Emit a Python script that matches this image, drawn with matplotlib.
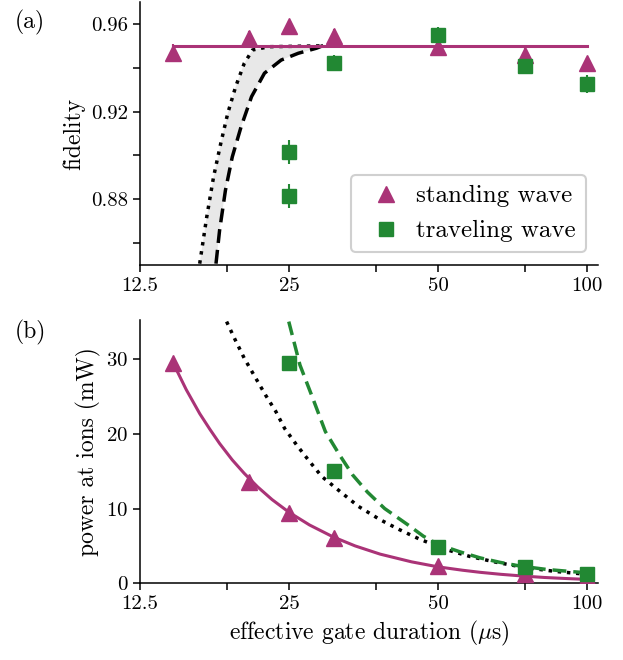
import matplotlib
matplotlib.use('Agg')
import matplotlib.pyplot as plt
from matplotlib.lines import Line2D
from matplotlib.ticker import FixedLocator, NullFormatter

plt.rcParams['font.family'] = 'cmr10'
plt.rcParams['mathtext.fontset'] = 'cm'
plt.rcParams['axes.formatter.use_mathtext'] = True

purple = '#AA3377'
green = '#228833'

# measured gate durations (us)
t_sw = [14.6, 20.8, 25, 30.8, 50, 75, 100]
t_tw = [25, 25, 30.8, 50, 75, 100]

# fidelities
fid_sw = [0.9467, 0.9536, 0.959, 0.9545, 0.9495, 0.946, 0.942]
fid_sw_err = [0.004, 0.003, 0.003, 0.003, 0.003, 0.003, 0.003]
fid_tw = [0.9015, 0.8814, 0.942, 0.955, 0.9408, 0.9326]
fid_tw_err = [0.0055, 0.0055, 0.0037, 0.0035, 0.003, 0.004]
fid_sw_fit = 0.95

# predicted fidelity bounds
t_bound_dot = [16.5, 17.05, 17.6, 18.2, 18.8, 19.5, 20.3, 21.1, 22.8, 29.5]
fid_bound_dot = [0.8506, 0.8719, 0.8902, 0.9055, 0.9192, 0.9313, 0.942, 0.9481, 0.9496, 0.95]
t_bound_dash = [17.8, 18.1, 18.6, 19.2, 20.0, 21.0, 22.3, 24.1, 26.1, 28.4, 29.5]
fid_bound_dash = [0.8506, 0.8658, 0.8841, 0.8993, 0.913, 0.9268, 0.9375, 0.9435, 0.9466, 0.9489, 0.9504]

# power at the ions (mW)
pow_sw = [29.4, 13.6, 9.4, 6.1, 2.3, 1.2, 0.9]
pow_tw = [29.4, 15.0, 4.8, 2.2, 1.3]

# fitted / expected power curves
t_fit_sw = [14.6, 15.5, 16.5, 17.3, 18.1, 19.2, 20.3, 21.6, 23.1, 25, 27.5, 30.7, 34, 38.2, 44.2, 50, 56, 60.8, 67, 74.3, 82, 90, 100]
pow_fit_sw = [29.4, 25.9, 22.7, 20.6, 18.7, 16.5, 14.7, 12.9, 11.2, 9.5, 7.8, 6.2, 5.0, 3.9, 2.87, 2.2, 1.75, 1.47, 1.2, 0.97, 0.78, 0.65, 0.52]
t_expect = [18.7, 19.45, 20.3, 21.3, 22.4, 23.5, 24.5, 25.9, 27.5, 29.1, 31.4, 34.5, 38.2, 41.7, 45.9, 52.0, 57.9, 65.7, 75, 86, 100]
pow_expect = [35.0, 32.6, 30.1, 27.7, 25.2, 23.0, 20.7, 18.5, 16.3, 14.3, 12.5, 10.3, 8.5, 7.2, 5.9, 4.5, 3.6, 2.8, 2.1, 1.6, 1.2]
t_fit_tw = [24.97, 26.3, 27.9, 29.6, 31.6, 33.6, 36.0, 39.0, 43.5, 46.7, 50, 55.4, 60.8, 66.7, 73.3, 82.9, 93.7, 100]
pow_fit_tw = [35.0, 29.2, 24.8, 20.3, 17.2, 14.5, 12.2, 10.0, 7.8, 6.3, 5.2, 4.2, 3.4, 2.8, 2.3, 1.85, 1.55, 1.4]

xticks = [12.5, 25, 50, 100]
xticklabels = ['12.5', '25', '50', '100']
xminor = [18.75, 37.5, 75]

fig = plt.figure(figsize=(6.23, 6.6), dpi=100)
ax1 = fig.add_axes([0.2247, 0.5985, 0.7352, 0.3985])
ax2 = fig.add_axes([0.2247, 0.1162, 0.7352, 0.3988])

for ax in (ax1, ax2):
    ax.set_xscale('log', base=2)
    ax.set_xlim(12.5, 105.2)
    ax.xaxis.set_major_locator(FixedLocator(xticks))
    ax.set_xticklabels(xticklabels)
    ax.xaxis.set_minor_locator(FixedLocator(xminor))
    ax.xaxis.set_minor_formatter(NullFormatter())
    ax.spines['top'].set_visible(False)
    ax.spines['right'].set_visible(False)
    ax.tick_params(which='both', direction='out', length=5, width=1.1, labelsize=15)
    for s in ('left', 'bottom'):
        ax.spines[s].set_linewidth(1.1)

# (a) fidelity
ax1.fill(t_bound_dot + t_bound_dash[::-1], fid_bound_dot + fid_bound_dash[::-1],
         color='#e8e8e8', lw=0, zorder=1)
ax1.plot(t_bound_dot, fid_bound_dot, ls=':', color='k', lw=2.5, zorder=2)
ax1.plot(t_bound_dash, fid_bound_dash, ls=(0, (4, 2)), color='k', lw=2.5, zorder=2)
ax1.plot([t_sw[0], t_sw[-1]], [fid_sw_fit, fid_sw_fit], color=purple, lw=2.2, zorder=3)
ax1.errorbar(t_sw, fid_sw, yerr=fid_sw_err, fmt='^', color=purple, ms=11,
             elinewidth=1.5, capsize=0, zorder=4)
ax1.errorbar(t_tw, fid_tw, yerr=fid_tw_err, fmt='s', color=green, ms=9.5,
             elinewidth=1.5, capsize=0, zorder=4)
ax1.set_ylim(0.85, 0.97)
ax1.yaxis.set_major_locator(FixedLocator([0.88, 0.92, 0.96]))
ax1.yaxis.set_minor_locator(FixedLocator([0.86, 0.90, 0.94]))
ax1.set_yticklabels(['0.88', '0.92', '0.96'])
ax1.set_ylabel('fidelity', fontsize=17)

handles = [Line2D([], [], ls='none', marker='^', color=purple, ms=11),
           Line2D([], [], ls='none', marker='s', color=green, ms=9.5)]
leg = ax1.legend(handles, ['standing wave', 'traveling wave'], loc='lower right',
                 fontsize=18, handletextpad=0.2, borderaxespad=0.5,
                 edgecolor='#d0d0d0', framealpha=1)
leg.get_frame().set_linewidth(1.5)

# (b) power
ax2.plot(t_fit_sw, pow_fit_sw, color=purple, lw=2.2, zorder=2)
ax2.plot(t_expect, pow_expect, ls=':', color='k', lw=2.5, zorder=2)
ax2.plot(t_fit_tw, pow_fit_tw, ls=(0, (4, 2)), color=green, lw=2.5, zorder=2)
ax2.plot(t_sw, pow_sw, '^', color=purple, ms=11, zorder=3)
ax2.plot(t_tw[1:], pow_tw, 's', color=green, ms=9.5, zorder=3)
ax2.set_ylim(0, 35.2)
ax2.set_yticks([0, 10, 20, 30])
ax2.set_ylabel('power at ions (mW)', fontsize=17)
ax2.set_xlabel(r'effective gate duration ($\mu$s)', fontsize=17)

fig.text(0.024, 0.985, '(a)', fontsize=17, va='top')
fig.text(0.024, 0.515, '(b)', fontsize=17, va='top')

fig.savefig('out.png', dpi=100)
